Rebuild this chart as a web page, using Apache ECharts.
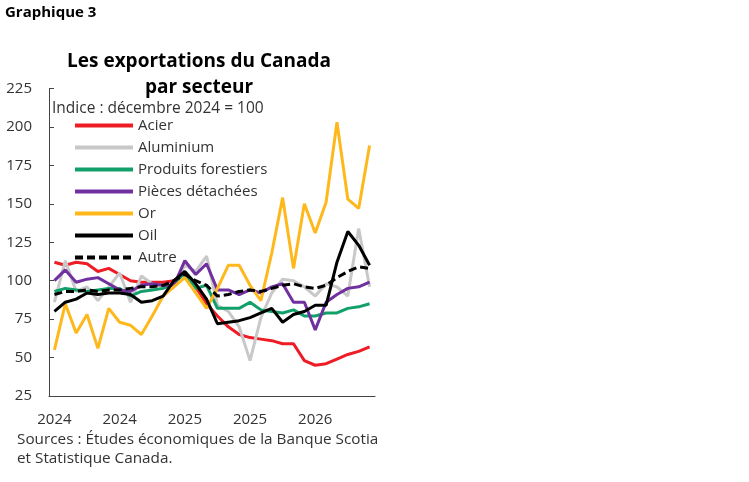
<!DOCTYPE html>
<html>
<head>
<meta charset="utf-8">
<script src="https://cdn.jsdelivr.net/npm/echarts@6/dist/echarts.min.js"></script>
<style>
  html, body { margin: 0; padding: 0; background: #fff; }
  #chart { width: 749px; height: 482px; }
</style>
</head>
<body>
<div id="chart"></div>
<script>
/* Les exportations du Canada par secteur, indice déc. 2024 = 100 */

// mois de janvier 2024 a juin 2026
var mois = ['2024-01', '2024-02', '2024-03', '2024-04', '2024-05', '2024-06',
    '2024-07', '2024-08', '2024-09', '2024-10', '2024-11', '2024-12',
    '2025-01', '2025-02', '2025-03', '2025-04', '2025-05', '2025-06',
    '2025-07', '2025-08', '2025-09', '2025-10', '2025-11', '2025-12',
    '2026-01', '2026-02', '2026-03', '2026-04', '2026-05', '2026-06'];

var acier = [112, 110, 112, 111, 106, 108, 104, 100, 99, 99, 99, 100, 105, 96, 85,
    77, 70, 65, 63, 62, 61, 59, 59, 48, 45, 46, 49, 52, 54, 57];
var aluminium = [86, 113, 93, 96, 87, 96, 105, 86, 103, 98, 96, 97, 110, 106, 116,
    84, 80, 70, 48, 76, 92, 101, 100, 96, 90, 98, 96, 90, 134, 96];
var forestiers = [93, 95, 94, 93, 94, 95, 95, 90, 93, 94, 95, 98, 105, 95, 97,
    82, 82, 82, 86, 81, 80, 79, 81, 77, 77, 79, 79, 82, 83, 85];
var pieces = [100, 107, 99, 101, 102, 98, 94, 93, 97, 98, 97, 97, 113, 104, 111,
    94, 94, 91, 94, 92, 96, 98, 86, 86, 68, 86, 91, 95, 96, 99];
var or = [55, 85, 66, 78, 56, 82, 73, 71, 65, 77, 90, 96, 102, 92, 82,
    95, 110, 110, 97, 87, 118, 154, 108, 150, 131, 151, 203, 153, 147, 188];
var oil = [80, 86, 88, 92, 91, 92, 92, 91, 86, 87, 90, 100, 106, 98, 88,
    72, 73, 74, 76, 79, 82, 73, 78, 80, 84, 84, 112, 132, 123, 110];
var autre = [91, 93, 93, 94, 93, 94, 94, 95, 96, 96, 97, 100, 104, 100, 97,
    90, 91, 93, 94, 93, 95, 97, 98, 96, 95, 97, 102, 106, 109, 108];

var noms = ['Acier', 'Aluminium', 'Produits forestiers', 'Pièces détachées', 'Or', 'Oil', 'Autre'];
var couleurs = ['#ee1c25', '#c8c8c8', '#12a06a', '#7030a0', '#ffb81c', '#000000', '#000000'];
var valeurs = [acier, aluminium, forestiers, pieces, or, oil, autre];

var yTicks = { min: 25, max: 225, step: 25 };

var police = '"Open Sans"';
var gris = '#333333';

var myChart = echarts.init(document.getElementById('chart'));

var series = [];
for (var i = 0; i < noms.length; i++) {
    series.push({
        name: noms[i],
        type: 'line',
        data: valeurs[i],
        symbol: 'none',
        smooth: false,
        lineStyle: {
            color: couleurs[i],
            width: 3,
            type: noms[i] === 'Autre' ? [8, 4] : 'solid'
        },
        itemStyle: { color: couleurs[i] }
    });
}

var option = {
    animation: false,
    backgroundColor: '#fff',
    textStyle: { fontFamily: police },
    grid: { left: 49, right: 374, top: 88.5, bottom: 86, containLabel: false },
    legend: {
        orient: 'vertical',
        left: 68,
        top: 113,
        itemWidth: 58,
        itemHeight: 14,
        itemGap: 7,
        data: noms,
        itemStyle: { opacity: 0 },
        lineStyle: { width: 4 },
        textStyle: { fontSize: 15, color: gris, fontFamily: police }
    },
    xAxis: {
        type: 'category',
        data: mois,
        boundaryGap: true,
        axisLine: { lineStyle: { color: '#444', width: 1 } },
        axisTick: { inside: true, interval: 5, length: 5, lineStyle: { color: '#444' } },
        axisLabel: {
            interval: 5,
            fontSize: 15,
            color: gris,
            margin: 16,
            formatter: function (v) { return v.slice(0, 4); }
        },
        splitLine: { show: false }
    },
    yAxis: {
        type: 'value',
        min: yTicks.min,
        max: yTicks.max,
        interval: yTicks.step,
        axisLine: { show: true, lineStyle: { color: '#444', width: 1 } },
        axisTick: { show: true, inside: true, length: 5, lineStyle: { color: '#444' } },
        axisLabel: { fontSize: 15, color: gris, margin: 17 },
        splitLine: { show: false }
    },
    graphic: [
        { type: 'text', left: 5, top: 5,
          style: { text: 'Graphique 3', font: 'bold 15px ' + police, fill: '#000' } },
        { type: 'text', x: 199, y: 62,
          style: { text: 'Les exportations du Canada', font: 'bold 19px ' + police, fill: '#000',
                   textAlign: 'center', textVerticalAlign: 'middle' } },
        { type: 'text', x: 199, y: 88,
          style: { text: 'par secteur', font: 'bold 19px ' + police, fill: '#000',
                   textAlign: 'center', textVerticalAlign: 'middle' } },
        { type: 'text', x: 52, y: 109,
          style: { text: 'Indice : décembre 2024 = 100', font: '15.5px ' + police, fill: gris,
                   textVerticalAlign: 'middle' } },
        { type: 'text', x: 17, y: 440,
          style: { text: 'Sources : Études économiques de la Banque Scotia', font: '15.3px ' + police,
                   fill: gris, textVerticalAlign: 'middle' } },
        { type: 'text', x: 17, y: 459,
          style: { text: 'et Statistique Canada.', font: '15.3px ' + police, fill: gris,
                   textVerticalAlign: 'middle' } }
    ],
    series: series
};

myChart.setOption(option, true);
</script>
</body>
</html>
